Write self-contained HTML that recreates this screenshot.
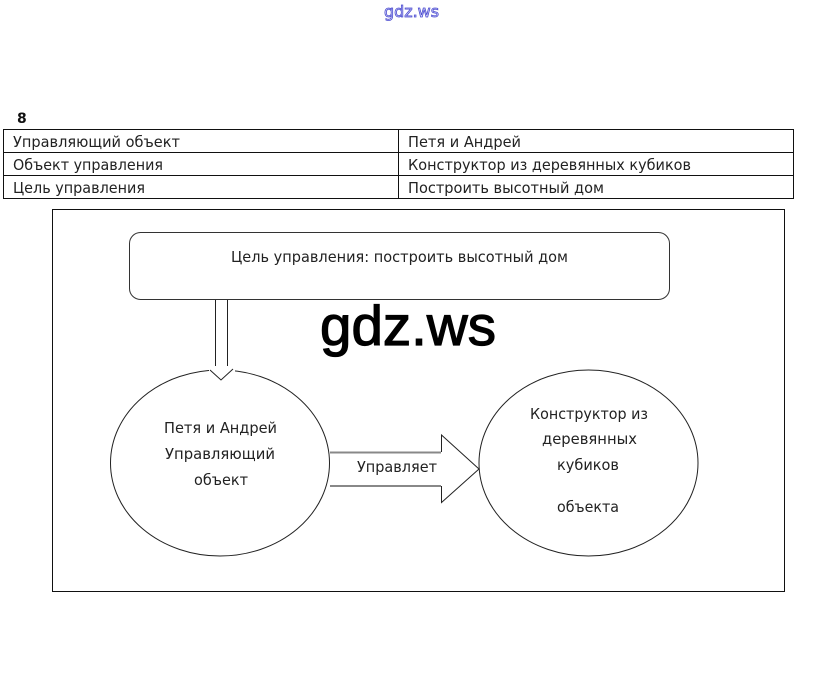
<!DOCTYPE html>
<html>
<head>
<meta charset="utf-8">
<style>
html,body{margin:0;padding:0;background:#fff}
svg{display:block}
text{font-family:"DejaVu Sans","Liberation Sans",sans-serif;fill:#222;font-size:15px}
</style>
</head>
<body>
<svg width="823" height="694" viewBox="0 0 823 694" xmlns="http://www.w3.org/2000/svg">
<rect width="823" height="694" fill="#fff"/>
<text x="384" y="17" lengthAdjust="spacingAndGlyphs" style="font-size:16px;fill:#dfe0fa;stroke:#4a4ad0;stroke-width:.8px" textLength="55">gdz.ws</text>
<text x="17" y="123" style="font-size:14px;font-weight:bold;fill:#111">8</text>

<g fill="none" stroke="#111" stroke-width="1">
<rect x="3.5" y="129.5" width="790" height="69"/>
<line x1="3" y1="152.5" x2="794" y2="152.5"/>
<line x1="3" y1="175.5" x2="794" y2="175.5"/>
<line x1="398.5" y1="129" x2="398.5" y2="199"/>
<rect x="52.5" y="209.5" width="732" height="382"/>
</g>

<g>
<text x="13" y="147" lengthAdjust="spacingAndGlyphs" textLength="167">Управляющий объект</text>
<text x="13" y="170" lengthAdjust="spacingAndGlyphs" textLength="150">Объект управления</text>
<text x="13" y="193" lengthAdjust="spacingAndGlyphs" textLength="132">Цель управления</text>
<text x="408" y="147" lengthAdjust="spacingAndGlyphs" textLength="113">Петя и Андрей</text>
<text x="408" y="170" lengthAdjust="spacingAndGlyphs" textLength="283">Конструктор из деревянных кубиков</text>
<text x="408" y="193" lengthAdjust="spacingAndGlyphs" textLength="196">Построить высотный дом</text>
</g>

<rect x="129.5" y="232.5" width="540" height="67" rx="11" fill="#fff" stroke="#333" stroke-width="1"/>
<text x="231" y="262" lengthAdjust="spacingAndGlyphs" textLength="337">Цель управления: построить высотный дом</text>

<g fill="none" stroke="#222" stroke-width="1">
<line x1="215.5" y1="300" x2="215.5" y2="369"/>
<line x1="227.5" y1="300" x2="227.5" y2="369"/>
<ellipse cx="220" cy="463" rx="109.5" ry="93"/>
<ellipse cx="588.5" cy="463" rx="109.5" ry="93"/>
</g>
<rect x="209" y="366" width="26" height="8" fill="#fff"/>
<polyline points="210,370 221,380 233,369" fill="none" stroke="#222" stroke-width="1"/>

<path d="M330 452.5H441.5V435L479 469L441.5 502.5V486H330" fill="#fff" stroke="none"/>
<path d="M330 452.5H441M330 486H441" fill="none" stroke="#888" stroke-width="2"/>
<path d="M441.5 452V435L479 469L441.5 502.5V486" fill="none" stroke="#222" stroke-width="1"/>
<text x="357" y="472" lengthAdjust="spacingAndGlyphs" textLength="80">Управляет</text>

<text x="164" y="433" lengthAdjust="spacingAndGlyphs" textLength="113">Петя и Андрей</text>
<text x="165" y="459" lengthAdjust="spacingAndGlyphs" textLength="110">Управляющий</text>
<text x="194" y="485" lengthAdjust="spacingAndGlyphs" textLength="54">объект</text>

<text x="530" y="419" lengthAdjust="spacingAndGlyphs" textLength="118">Конструктор из</text>
<text x="542" y="444" lengthAdjust="spacingAndGlyphs" textLength="95">деревянных</text>
<text x="557" y="470" lengthAdjust="spacingAndGlyphs" textLength="62">кубиков</text>
<text x="557" y="512" lengthAdjust="spacingAndGlyphs" textLength="62">объекта</text>

<text x="320" y="345" lengthAdjust="spacingAndGlyphs" textLength="176" style="font-family:'Liberation Sans',sans-serif;font-size:56px;fill:#000;stroke:#000;stroke-width:1.2px">gdz.ws</text>
</svg>
</body>
</html>
